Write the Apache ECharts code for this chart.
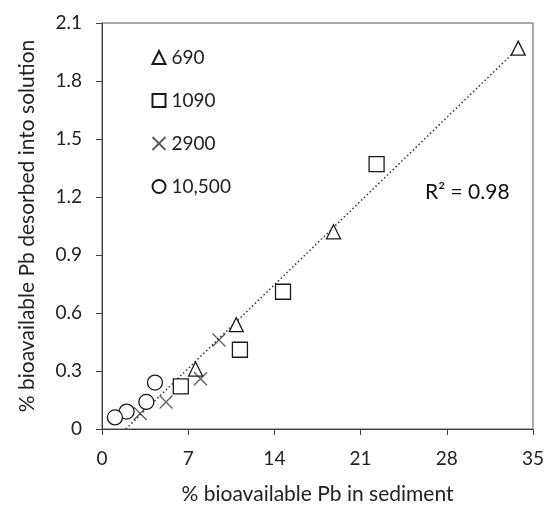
<!DOCTYPE html>
<html><head><meta charset="utf-8">
<script src="https://cdn.jsdelivr.net/npm/echarts@6/dist/echarts.min.js"></script>
<style>html,body{margin:0;padding:0;background:#fff}#c{width:547px;height:510px}</style>
</head><body><div id="c"></div>
<script>
const s690 = [[33.8,1.97],[18.8,1.02],[10.9,0.54],[7.6,0.31]];
const s1090 = [[22.3,1.37],[14.7,0.71],[11.2,0.41],[6.4,0.22]];
const s2900 = [[9.5,0.46],[8.0,0.26],[5.2,0.14],[3.1,0.08]];
const s10500 = [[4.3,0.24],[3.6,0.14],[2.0,0.09],[1.05,0.06]];
const trendX = [1.93, 33.8];
const trendY = [0, 1.97];
const xTicks = [0,7,14,21,28,35];
const yTicks = [0,0.3,0.6,0.9,1.2,1.5,1.8,2.1];
const names = ['690','1090','2900','10,500'];

const FONT = 'Lato';
const crossPath = 'path://M0,0L10,10M10,0L0,10';
const chart = echarts.init(document.getElementById('c'));
const mk = (name, data, symbol, size) => ({
  name, type:'scatter', data, symbol, symbolSize:size,
  itemStyle:{color:'#fff', borderColor:'#1a1a1a', borderWidth:1.3, opacity:1},
  z:3
});
chart.setOption({
  animation:false,
  grid:{left:102, right:10, top:23, bottom:79, show:true, borderColor:'#595959', borderWidth:1},
  legend:{
    orient:'vertical', left:145, top:43, itemGap:24, itemWidth:13, itemHeight:13,
    textStyle:{fontFamily:FONT, fontSize:19, color:'#222', padding:[0,0,0,1]},
    data:[
      {name:'690', icon:'triangle'},
      {name:'1090', icon:'rect'},
      {name:'2900', icon:crossPath},
      {name:'10,500', icon:'circle'}
    ]
  },
  xAxis:{
    type:'value', min:xTicks[0], max:xTicks[xTicks.length-1], interval:7,
    name:'% bioavailable Pb in sediment', nameLocation:'middle', nameGap:55,
    nameTextStyle:{fontFamily:FONT, fontSize:21, color:'#222'},
    axisLine:{lineStyle:{color:'#404040', width:1}},
    axisTick:{show:true, length:6, lineStyle:{color:'#404040'}},
    axisLabel:{fontFamily:FONT, fontSize:19, color:'#222', margin:20},
    splitLine:{show:false}
  },
  yAxis:{
    type:'value', min:yTicks[0], max:yTicks[yTicks.length-1], interval:0.3,
    name:'% bioavailable Pb desorbed into solution', nameLocation:'middle', nameGap:64,
    nameTextStyle:{fontFamily:FONT, fontSize:21, color:'#222'},
    axisLine:{show:true, lineStyle:{color:'#404040', width:1}},
    axisTick:{show:true, length:6, lineStyle:{color:'#404040'}},
    axisLabel:{fontFamily:FONT, fontSize:19, color:'#222', margin:20,
      formatter:v=>v===0?'0':v.toFixed(1)},
    splitLine:{show:false}
  },
  series:[
    {type:'line', data:trendX.map((x,i)=>[x,trendY[i]]), symbol:'none', silent:true,
     lineStyle:{color:'#333', width:1.5, type:[1.5,2.5]}, z:2, legendHoverLink:false},
    mk(names[0], s690, 'triangle', 14),
    mk(names[1], s1090, 'rect', 15),
    Object.assign(mk(names[2], s2900, crossPath, 13), {itemStyle:{color:'none', borderColor:'#333', borderWidth:1.3}}),
    mk(names[3], s10500, 'circle', 15)
  ],
  graphic:[{
    type:'text', left:425, top:182,
    style:{text:'R² = 0.98', font:'21px Lato', fill:'#111'}
  }]
});
</script></body></html>
